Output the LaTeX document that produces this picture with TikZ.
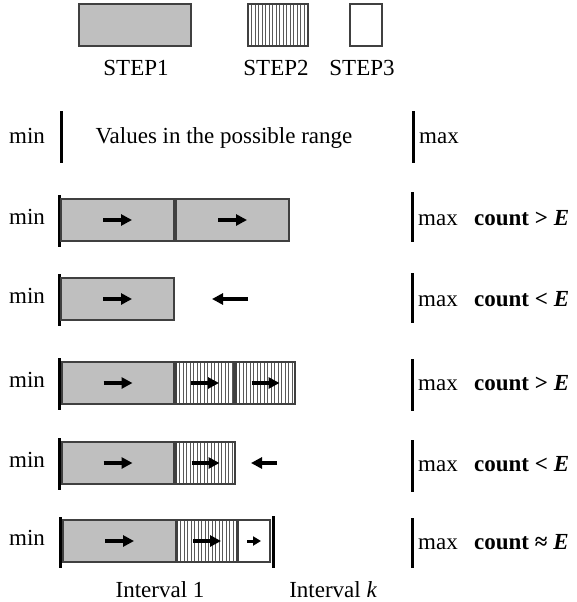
\documentclass[tikz,border=0pt]{standalone}
\usepackage{fontspec}
\setmainfont{Liberation Serif}
\usetikzlibrary{arrows.meta}
\begin{document}
\begin{tikzpicture}[x=1pt,y=-1pt,
 lab/.style={font=\fontsize{23}{27}\selectfont, inner sep=0pt},
 boxbase/.style={draw=black!75, line width=1.2pt, inner sep=0pt, outer sep=0pt, minimum height=42pt},
 sone/.style={boxbase, fill=black!25},
 stwo/.style={boxbase, fill=white, path picture={\foreach \i in {1,...,40} \draw[black!65, line width=0.9pt] ([xshift=\i*3.5pt]path picture bounding box.south west) -- ([xshift=\i*3.5pt]path picture bounding box.north west);}},
 sthree/.style={boxbase, fill=white},
 bar/.style={line width=3pt},
 arr/.style={line width=3.5pt, -{Triangle[length=11pt,width=11pt]}},
 sarr/.style={line width=3pt, -{Triangle[length=8pt,width=9pt]}},
]
\useasboundingbox (0,0) rectangle (577,602);
% legend
\node[sone, minimum width=112pt] (l1) at (135,25) {};
\node[stwo, minimum width=60pt] (l2) at (278,25) {};
\node[sthree, minimum width=32pt] (l3) at (366,25) {};
\node[lab, anchor=base] (t1) at (136,75) {STEP1};
\node[lab, anchor=base] (t2) at (276,75) {STEP2};
\node[lab, anchor=base] (t3) at (362,75) {STEP3};
% row 0
\node[lab, anchor=base] (m0) at (27,143) {min};
\draw[bar] (61,111) -- (61,163);
\node[lab, anchor=base] (v0) at (224,143) {Values in the possible range};
\draw[bar] (413,111) -- (413,163);
\node[lab, anchor=base west] (x0) at (419,143) {max};
% row 1 (c=220)
\node[lab, anchor=base] (m1) at (27,224) {min};
\draw[bar] (59,195) -- (59,247);
\node[sone, minimum width=113pt] (r1a) at (117.5,220) {};
\node[sone, minimum width=113pt] (r1b) at (232.5,220) {};
\draw[arr] ([xshift=-14.5pt]r1a.center) -- ([xshift=14.5pt]r1a.center);
\draw[arr] ([xshift=-14.5pt]r1b.center) -- ([xshift=14.5pt]r1b.center);
\draw[bar] (412,192) -- (412,242);
\node[lab, anchor=base west] (x1) at (418,225) {max};
\node[lab, anchor=base west] (c1) at (474,225) {\bfseries count > \itshape E};
% row 2 (c=299)
\node[lab, anchor=base] (m2) at (27,303) {min};
\draw[bar] (59,274) -- (59,326);
\node[sone, minimum width=113pt] (r2a) at (117.5,299) {};
\draw[arr] ([xshift=-14.5pt]r2a.center) -- ([xshift=14.5pt]r2a.center);
\coordinate (p2s) at (248,299);
\coordinate (p2e) at (212,299);
\draw[arr] (p2s) -- (p2e);
\draw[bar] (412,273) -- (412,323);
\node[lab, anchor=base west] (x2) at (418,306) {max};
\node[lab, anchor=base west] (c2) at (474,306) {\bfseries count < \itshape E};
% row 3 (c=383)
\node[lab, anchor=base] (m3) at (27,387) {min};
\draw[bar] (59,358) -- (59,410);
\node[sone, minimum width=112pt] (r3a) at (118,383) {};
\node[stwo, minimum width=58pt] (r3b) at (205,383) {};
\node[stwo, minimum width=59pt] (r3c) at (265.5,383) {};
\draw[arr] ([xshift=-14.5pt]r3a.center) -- ([xshift=14.5pt]r3a.center);
\draw[arr] ([xshift=-14pt]r3b.center) -- ([xshift=14pt]r3b.center);
\draw[arr] ([xshift=-14pt]r3c.center) -- ([xshift=14pt]r3c.center);
\draw[bar] (412,359) -- (412,411);
\node[lab, anchor=base west] (x3) at (418,390) {max};
\node[lab, anchor=base west] (c3) at (474,390) {\bfseries count > \itshape E};
% row 4 (c=463)
\node[lab, anchor=base] (m4) at (27,467) {min};
\draw[bar] (59,438) -- (59,490);
\node[sone, minimum width=112pt] (r4a) at (118,463) {};
\node[stwo, minimum width=59pt] (r4b) at (205.5,463) {};
\draw[arr] ([xshift=-14.5pt]r4a.center) -- ([xshift=14.5pt]r4a.center);
\draw[arr] ([xshift=-14pt]r4b.center) -- ([xshift=14pt]r4b.center);
\coordinate (p4s) at (277,463);
\coordinate (p4e) at (251,463);
\draw[arr] (p4s) -- (p4e);
\draw[bar] (412,440) -- (412,492);
\node[lab, anchor=base west] (x4) at (418,471) {max};
\node[lab, anchor=base west] (c4) at (474,471) {\bfseries count < \itshape E};
% row 5 (c=541)
\node[lab, anchor=base] (m5) at (27,545) {min};
\draw[bar] (60,517) -- (60,568);
\node[sone, minimum width=113pt] (r5a) at (119.5,541) {};
\node[stwo, minimum width=60pt] (r5b) at (207,541) {};
\node[sthree, minimum width=32pt] (r5c) at (254,541) {};
\draw[arr] ([xshift=-14.5pt]r5a.center) -- ([xshift=14.5pt]r5a.center);
\draw[arr] ([xshift=-14pt]r5b.center) -- ([xshift=14pt]r5b.center);
\draw[sarr] ([xshift=-7pt]r5c.center) -- ([xshift=7pt]r5c.center);
\draw[bar] (273,516) -- (273,568);
\draw[bar] (412,518) -- (412,568);
\node[lab, anchor=base west] (x5) at (418,549) {max};
\node[lab, anchor=base west] (c5) at (474,549) {\bfseries count ≈ \itshape E};
% interval labels
\node[lab, anchor=base] (i1) at (160,597) {Interval 1};
\node[lab, anchor=base] (ik) at (333,597) {Interval \itshape k};
\end{tikzpicture}
\end{document}
